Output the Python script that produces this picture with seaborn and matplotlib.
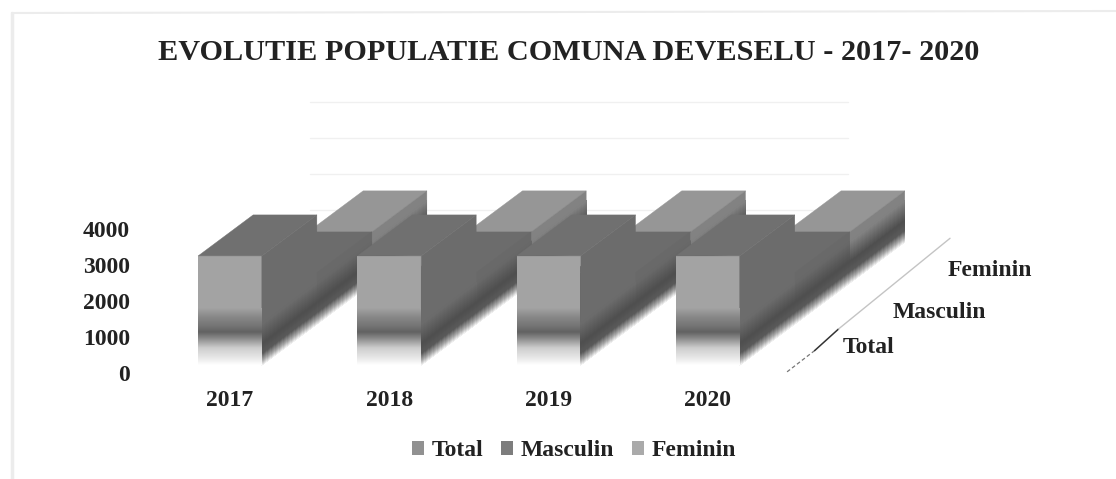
import numpy as np
import pandas as pd
import matplotlib
matplotlib.use("Agg")
import matplotlib.pyplot as plt
from matplotlib.collections import PolyCollection
from matplotlib.lines import Line2D
from matplotlib.patches import Patch
import seaborn as sns

years = ["2017", "2018", "2019", "2020"]
series = ["Total", "Masculin", "Feminin"]
total = [3030, 3030, 3030, 3030]
masculin = [1420, 1420, 1420, 1420]
feminin = [1420, 1420, 1420, 1420]
yticks = [0, 1000, 2000, 3000, 4000]

# oblique projection: one row back moves the bar right and up (in data units)
W, H = 1116, 479
X_UNIT = 159.3   # px per year
Y_UNIT = 0.036   # px per person
BAR = 0.4
DX = 55 / X_UNIT
DY = 41 / Y_UNIT

# greys per row: front, side, top
shades = {
    "Total": (163, 108, 112),
    "Masculin": (105, 105, 108),
    "Feminin": (113, 130, 150),
}
legend_cols = {"Total": "#919191", "Masculin": "#7d7d7d", "Feminin": "#aaaaaa"}
INK = "#222222"
FONT = "Liberation Serif"

# shading near the foot of the bars: height above base in px -> grey level
front_h = [0, 6, 17, 27, 33, 40, 48, 57]
front_g = [255, 235, 205, 135, 98, 118, 135, 163]
side_h = [0, 5, 12, 22, 42]
side_g = [245, 170, 90, 78]


def grey(g):
    return (g / 255, g / 255, g / 255)


def project(x, depth, value):
    return x + DX * depth, value + DY * depth


def box_side(x, depth, value, h0=0.0, h1=None):
    h1 = value if h1 is None else h1
    right = x + BAR / 2
    return [project(right, depth, h0), project(right, depth + 1, h0),
            project(right, depth + 1, h1), project(right, depth, h1)]


def box_top(x, depth, value):
    left, right = x - BAR / 2, x + BAR / 2
    return [project(left, depth, value), project(right, depth, value),
            project(right, depth + 1, value), project(left, depth + 1, value)]


def strips(heights, greys, top):
    # small steps of (h0, h1, colour) for a vertical grey ramp
    edges = np.arange(0, top + 1.0, 1.0)
    vals = np.interp(edges[:-1] + 0.5, heights, greys)
    return [(a / Y_UNIT, b / Y_UNIT, grey(g)) for a, b, g in zip(edges[:-1], edges[1:], vals)]


sns.set_theme(style="white")
plt.rcParams["font.family"] = [FONT, "DejaVu Serif"]

df = pd.DataFrame({"year": years, "Total": total, "Masculin": masculin, "Feminin": feminin})
xs = np.arange(len(years), dtype=float)

fig = plt.figure(figsize=(W / 100, H / 100), dpi=100, facecolor="white")
ax = fig.add_axes([135 / W, 1 - 380 / H, (1100 - 135) / W, (380 - 60) / H])
ax.patch.set_alpha(0)

# back wall grid
for v in yticks[1:]:
    a = project(-0.5, 2.9, v)
    b = project(2.88, 2.9, v)
    ax.plot([a[0], b[0]], [a[1], b[1]], color="#f0f0f0", lw=1.0, zorder=1)

# draw back row first
for depth, name in reversed(list(enumerate(series))):
    front, side, top = [grey(g) for g in shades[name]]
    z = 10 + (2 - depth) * 10
    fx, base = project(xs, depth, 0)
    row = pd.DataFrame({"x": fx, "v": df[name].values})
    sns.barplot(data=row, x="x", y="v", native_scale=True, width=BAR, color=front,
                saturation=1, errorbar=None, bottom=float(base), zorder=z, linewidth=0, ax=ax)
    tops = [box_top(x, depth, v) for x, v in zip(xs, df[name])]
    ax.add_collection(PolyCollection(tops, facecolors=[top], edgecolors=[top], lw=0.3, zorder=z + 1))
    sides = [box_side(x, depth, v) for x, v in zip(xs, df[name])]
    ax.add_collection(PolyCollection(sides, facecolors=[side], edgecolors=[side], lw=0.3, zorder=z + 1))
    # dark foot of the side faces, blending into the face colour
    polys, cols = [], []
    for x in xs:
        for h0, h1, c in strips(side_h, side_g + [shades[name][1]], side_h[-1]):
            polys.append(box_side(x, depth, 0, h0, h1))
            cols.append(c)
    ax.add_collection(PolyCollection(polys, facecolors=cols, edgecolors="none", antialiased=False, zorder=z + 2))
    if name == "Total":
        polys, cols = [], []
        for x in xs:
            for h0, h1, c in strips(front_h, front_g, front_h[-1]):
                l, r = x - BAR / 2, x + BAR / 2
                polys.append([(l, h0), (r, h0), (r, h1), (l, h1)])
                cols.append(c)
        ax.add_collection(PolyCollection(polys, facecolors=cols, edgecolors="none", antialiased=False, zorder=z + 2))

# depth axis
ax.plot([3.497, 3.67], [-190, 400], color="#777777", lw=0.9, ls=(0, (3, 2)), zorder=3)
ax.plot([3.67, 3.82], [400, 1000], color="#333333", lw=1.1, zorder=3)
ax.plot([3.82, 4.52], [1000, 3520], color="#c4c4c4", lw=1.0, zorder=3)

# series names along the depth axis
depth_x = [3.848, 4.162, 4.507]
depth_y = [490, 1460, 2630]
for name, x, y in zip(series, depth_x, depth_y):
    ax.text(x, y, name, ha="left", va="center", fontsize=17, fontweight="bold", color=INK, family=FONT)

ax.set_xlim((135 - 230) / X_UNIT, (1100 - 230) / X_UNIT)
ax.set_ylim(-15 / Y_UNIT, 305 / Y_UNIT)
ax.set_xticks(xs)
ax.set_xticklabels(years, fontsize=17, fontweight="bold", color=INK)
ax.set_yticks(yticks)
ax.set_yticklabels([str(t) for t in yticks], fontsize=17, fontweight="bold", color=INK)
for lab in ax.get_yticklabels():
    lab.set_va("top")
ax.tick_params(axis="x", length=0, pad=7)
ax.tick_params(axis="y", length=0, pad=3.5)
ax.set_xlabel("")
ax.set_ylabel("")
sns.despine(ax=ax, left=True, bottom=True)

fig.text(569 / W, 1 - 52 / H, "EVOLUTIE POPULATIE COMUNA DEVESELU - 2017- 2020",
         ha="center", va="center", fontsize=21.8, fontweight="bold", color=INK)

handles = [Patch(facecolor=legend_cols[s], edgecolor="none", label=s) for s in series]
leg = fig.legend(handles=handles, loc="center", bbox_to_anchor=(574 / W, 1 - 451 / H), ncols=3,
                 frameon=False, handlelength=0.5, handleheight=0.5, handletextpad=0.33,
                 columnspacing=0.75, prop={"family": FONT, "weight": "bold", "size": 17})
for t in leg.get_texts():
    t.set_color(INK)

# outer chart border
fig.add_artist(Line2D([12 / W, 1], [1 - 13 / H, 1 - 11 / H], color="#ececec", lw=1.5))
fig.add_artist(Line2D([12 / W, 12 / W], [1 - 13 / H, 0], color="#ececec", lw=2.5))

fig.savefig("out.png", dpi=100)
